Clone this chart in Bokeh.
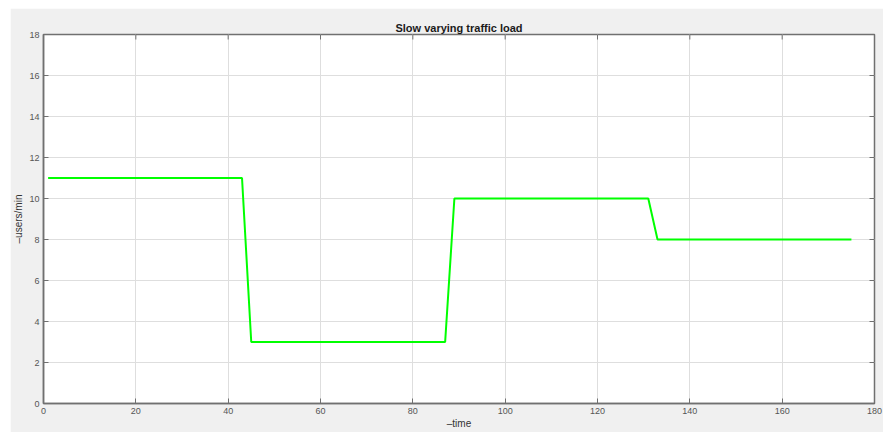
import math
from bokeh.plotting import figure
from bokeh.models import Range1d, FixedTicker
from bokeh.embed import file_html
from bokeh.resources import INLINE

# Offered load over time (piecewise levels with short ramps)
time = [1, 43, 45, 87, 89, 131, 133, 175]
users_per_min = [11, 11, 3, 3, 10, 10, 8, 8]

x_ticks = [0, 20, 40, 60, 80, 100, 120, 140, 160, 180]
y_ticks = [0, 2, 4, 6, 8, 10, 12, 14, 16, 18]

FONT = "Liberation Sans"
AXIS_GRAY = "#707070"
TEXT_GRAY = "#555555"

p = figure(
    width=873, height=424,
    x_range=Range1d(0, 180), y_range=Range1d(0, 18),
    output_backend="svg", toolbar_location=None,
    title="Slow varying traffic load",
    min_border_left=33, min_border_right=9,
    min_border_top=26, min_border_bottom=29,
    background_fill_color="white", border_fill_color="#f0f0f0",
)
p.margin = (8, 0, 0, 10)

p.title.align = "center"
p.title.text_font = FONT
p.title.text_font_size = "11px"
p.title.text_font_style = "bold"
p.title.text_color = "#1a1a1a"
p.title.offset = 0
p.title.standoff = 2

# Box around the data area
p.outline_line_color = AXIS_GRAY
p.outline_line_width = 1.5

p.line(time, users_per_min, line_color="#00ff00", line_width=2)

for ax in (p.xaxis[0], p.yaxis[0]):
    ax.axis_line_color = AXIS_GRAY
    ax.axis_line_width = 1.5
    ax.major_tick_line_color = AXIS_GRAY
    ax.major_tick_in = 5
    ax.major_tick_out = 0
    ax.minor_tick_line_color = None
    ax.major_label_text_font = FONT
    ax.major_label_text_font_size = "9px"
    ax.major_label_text_color = TEXT_GRAY
    ax.axis_label_text_font = FONT
    ax.axis_label_text_font_size = "10px"
    ax.axis_label_text_font_style = "normal"
    ax.axis_label_text_color = "#333333"

p.xaxis[0].ticker = FixedTicker(ticks=x_ticks)
p.yaxis[0].ticker = FixedTicker(ticks=y_ticks)
p.xaxis[0].axis_label = "\u2013time"
p.yaxis[0].axis_label = "\u2013users/min"
p.xaxis[0].major_label_standoff = 4
p.xaxis[0].axis_label_standoff = 1
p.yaxis[0].major_label_standoff = 4
p.yaxis[0].axis_label_standoff = 2

# Inward ticks along the top and right edges of the box
p.ray(x=x_ticks, y=[y_ticks[-1]] * len(x_ticks), length=5, length_units="screen",
      angle=-math.pi / 2, line_color=AXIS_GRAY, line_width=1)
p.ray(x=[x_ticks[-1]] * len(y_ticks), y=y_ticks, length=5, length_units="screen",
      angle=math.pi, line_color=AXIS_GRAY, line_width=1)

p.xgrid.ticker = FixedTicker(ticks=x_ticks)
p.ygrid.ticker = FixedTicker(ticks=y_ticks)
p.grid.grid_line_color = "#dedede"
p.grid.grid_line_width = 1

open("out.html", "w").write(file_html(p, INLINE))
